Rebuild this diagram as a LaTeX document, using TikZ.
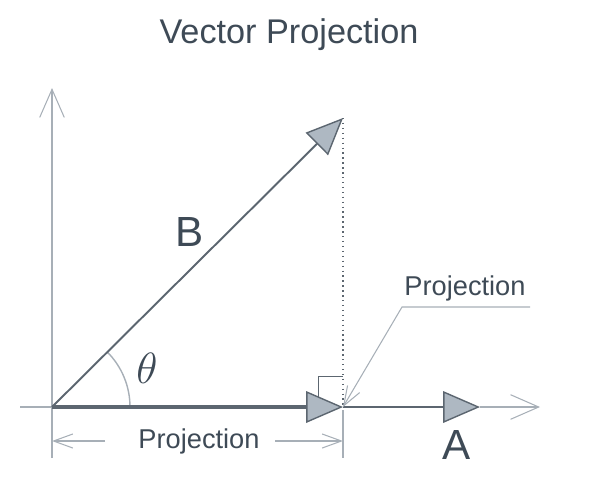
\documentclass[tikz,border=0pt]{standalone}
\usepackage{fontspec}
\setmainfont{Liberation Sans}
\usetikzlibrary{arrows.meta}
\definecolor{vecline}{HTML}{5C6670}
\definecolor{axisline}{HTML}{A7AFB7}
\definecolor{headfill}{HTML}{AEB8C2}
\definecolor{labeltext}{HTML}{3E4A56}

\tikzstyle{axis} = [draw, axisline, line width=0.6pt]
\tikzstyle{open head} = [-{Straight Barb[length=16pt,width=14pt,line width=0.6pt]}]
\tikzstyle{vector} = [draw, vecline, line width=1.1pt, -{Triangle[length=21pt,width=18pt,line width=0.8pt,fill=headfill]}]
\tikzstyle{dim} = [draw, axisline, line width=0.6pt, -{Straight Barb[length=11pt,width=8pt,line width=0.6pt]}]
\tikzstyle{label} = [text=labeltext, inner sep=0pt]

\begin{document}
\begin{tikzpicture}[x=0.02cm,y=-0.02cm]
			\useasboundingbox (0,0) rectangle (602,485);
			% points of the figure
			\coordinate (O) at (52,407);
			\coordinate (Btip) at (343,118);
			\coordinate (P) at (343,407);
			\coordinate (Atip) at (480,407);
			\coordinate (xend) at (540,407);
			\coordinate (xstart) at (20,407);
			\coordinate (ytop) at (52,88);
			\coordinate (ybot) at (52,458);
			\coordinate (pbot) at (343,458);
			\coordinate (ptop) at (343,410);
			% labels
			\node[label,font=\fontsize{19.5}{23}\selectfont] (title) at (289,35) {Vector Projection};
			\node[label,font=\fontsize{24}{28}\selectfont] (Blabel) at (190,232) {B};
			\node[label,font=\fontsize{24}{28}\selectfont] (Alabel) at (457,445) {A};
			\node[label,font=\fontsize{26}{30}\selectfont] (theta) at (147,368) {$\theta$};
			\node[label,font=\fontsize{15.5}{18}\selectfont] (projlabel) at (465,288) {Projection};
			\node[label,font=\fontsize{15.5}{18}\selectfont] (dimlabel) at (199,441) {Projection};
			% axes
			\path[axis,open head] (ybot) -- (ytop);
			\path[axis] (xstart) -- (O);
			\path[axis,open head] (Atip) -- (xend);
			\path[axis] (ptop) -- (pbot);
			% dotted drop and right angle
			\draw[vecline, line width=0.8pt, dotted] (Btip) -- (P);
			\draw[vecline, line width=0.5pt] (318,407) -- (318,376) -- (343,376);
			% angle
			\draw[axisline, line width=0.8pt] (130,407) arc[start angle=0, end angle=-44.8, radius=78];
			% vectors
			\path[vector] (O) -- (Btip);
			\path[vector] (P) -- (Atip);
			\path[vector, line width=2.8pt] (O) -- (P);
			% dimension line
			\coordinate (dimL) at (105,441);
			\coordinate (dimR) at (275,441);
			\path[dim] (dimL) -- (52,441);
			\path[dim] (dimR) -- (343,441);
			% leader to the projection point
			\coordinate (lead1) at (530,307);
			\coordinate (lead2) at (402,307);
			\path[dim] (lead1) -- (lead2) -- (P);
\end{tikzpicture}
\end{document}
